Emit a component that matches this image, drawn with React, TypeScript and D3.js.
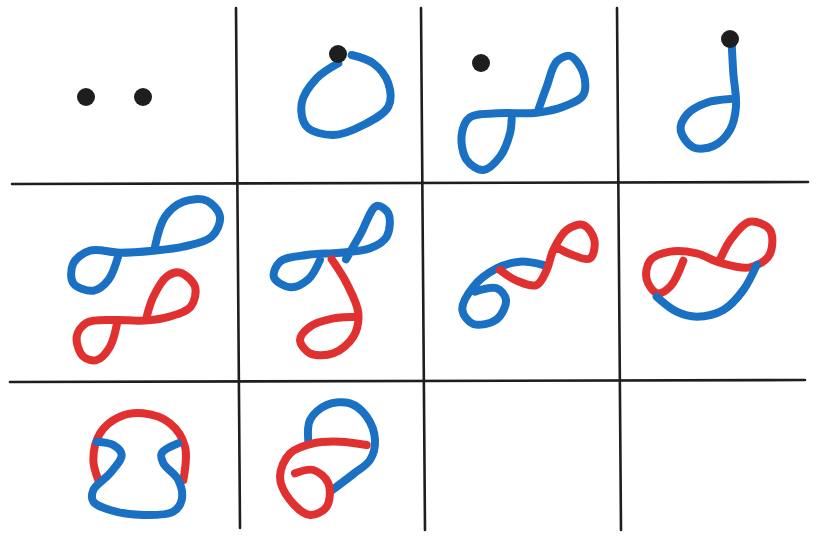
import { useEffect, useRef } from 'react';
import * as d3 from 'd3';

type Pt = [number, number];
type Stroke = { color: 'blue' | 'red'; origin: Pt; pts: Pt[] };

// grid lines [x1, y1, x2, y2]
const gridLines: [number, number, number, number][] = [
  [236, 8, 240, 528],
  [421, 8, 425, 530],
  [617, 8, 621, 530],
  [12, 184, 808, 182],
  [10, 382, 805, 380],
];

// black dots (page px)
const dots: Pt[] = [[86, 97], [143, 97], [338, 54], [481, 63], [730, 39]];

// strokes traced at 3x zoom relative to origin
const strokes: Stroke[] = [
  { color: 'blue', origin: [290, 20], pts: [[145, 130], [80, 175], [35, 250], [50, 320], [130, 345], [220, 315], [295, 260], [295, 190], [250, 130], [185, 105]] },
  { color: 'blue', origin: [290, 20], pts: [[745, 270], [770, 200], [800, 125], [840, 108], [880, 160], [880, 225], [820, 260], [740, 278], [620, 280], [540, 292], [515, 345], [530, 420], [580, 450], [630, 410], [660, 340], [665, 295]] },
  { color: 'blue', origin: [290, 20], pts: [[1325, 70], [1330, 160], [1338, 260], [1320, 330], [1270, 378], [1210, 382], [1172, 330], [1192, 282], [1250, 248], [1320, 237]] },
  { color: 'blue', origin: [40, 180], pts: [[345, 200], [375, 110], [430, 65], [500, 62], [540, 110], [515, 170], [430, 200], [340, 212], [240, 218], [150, 212], [100, 250], [100, 310], [160, 332], [205, 300], [237, 220]] },
  { color: 'red', origin: [40, 180], pts: [[320, 410], [340, 350], [380, 290], [420, 278], [465, 320], [452, 380], [380, 412], [300, 422], [230, 420], [140, 428], [110, 470], [130, 530], [170, 540], [210, 500], [233, 420]] },
  { color: 'blue', origin: [40, 180], pts: [[918, 238], [960, 165], [1010, 78], [1045, 100], [1040, 170], [990, 205], [900, 218], [800, 225], [720, 245], [702, 292], [752, 322], [805, 298], [840, 240]] },
  { color: 'red', origin: [40, 180], pts: [[875, 238], [920, 310], [955, 400], [940, 470], [880, 520], [810, 520], [780, 480], [810, 440], [880, 415], [955, 410]] },
  { color: 'blue', origin: [430, 180], pts: [[340, 255], [270, 245], [200, 265], [130, 320], [97, 390], [130, 432], [200, 418], [228, 360], [200, 325], [135, 335]] },
  { color: 'red', origin: [430, 180], pts: [[210, 270], [260, 302], [320, 315], [350, 270], [370, 210], [410, 150], [460, 135], [493, 180], [480, 235], [420, 222], [385, 205]] },
  { color: 'red', origin: [430, 180], pts: [[760, 242], [722, 318], [682, 340], [650, 298], [660, 242], [720, 215], [800, 220], [870, 248], [960, 262], [1018, 225], [1020, 150], [960, 125], [905, 175], [867, 245]] },
  { color: 'blue', origin: [430, 180], pts: [[680, 350], [740, 395], [800, 410], [880, 390], [940, 330], [980, 255]] },
  { color: 'red', origin: [60, 380], pts: [[115, 300], [100, 240], [120, 160], [180, 110], [250, 100], [330, 130], [375, 200], [370, 300]] },
  { color: 'blue', origin: [60, 380], pts: [[110, 185], [160, 195], [185, 225], [150, 280], [100, 330], [100, 365], [150, 390], [250, 405], [340, 395], [365, 360], [355, 300], [310, 250], [305, 220], [355, 190]] },
  { color: 'blue', origin: [60, 380], pts: [[745, 185], [750, 120], [800, 75], [870, 70], [920, 110], [945, 180], [930, 240], [880, 282], [810, 335]] },
  { color: 'red', origin: [60, 380], pts: [[920, 195], [840, 185], [760, 190], [690, 220], [660, 290], [690, 360], [750, 405], [800, 380], [805, 310], [760, 270], [705, 280]] },
];

const colors = { blue: '#1a70c2', red: '#e03030' };

const App = () => {
  const svgRef = useRef<SVGSVGElement>(null);

  useEffect(() => {
    if (!svgRef.current) return;
    const svg = d3.select(svgRef.current);
    svg.selectAll('*').remove();

    svg.selectAll('.grid')
      .data(gridLines)
      .join('line')
      .attr('x1', d => d[0]).attr('y1', d => d[1])
      .attr('x2', d => d[2]).attr('y2', d => d[3])
      .attr('stroke', '#1e1e1e')
      .attr('stroke-width', 2.6)
      .attr('stroke-linecap', 'round');

    const line = d3.line<Pt>().curve(d3.curveCatmullRom.alpha(0.5));

    svg.selectAll('.stroke')
      .data(strokes)
      .join('path')
      .attr('d', s => line(s.pts.map(([x, y]) => [s.origin[0] + x / 3, s.origin[1] + y / 3] as Pt)))
      .attr('fill', 'none')
      .attr('stroke', s => colors[s.color])
      .attr('stroke-width', 8)
      .attr('stroke-linecap', 'round')
      .attr('stroke-linejoin', 'round');

    svg.selectAll('.dot')
      .data(dots)
      .join('circle')
      .attr('cx', d => d[0]).attr('cy', d => d[1])
      .attr('r', 9)
      .attr('fill', '#1e1e1e');
  }, []);

  return (
    <svg
      ref={svgRef}
      width={821}
      height={541}
      style={{ position: 'absolute', left: 0, top: 0, background: '#fff' }}
    />
  );
};

export default App;
